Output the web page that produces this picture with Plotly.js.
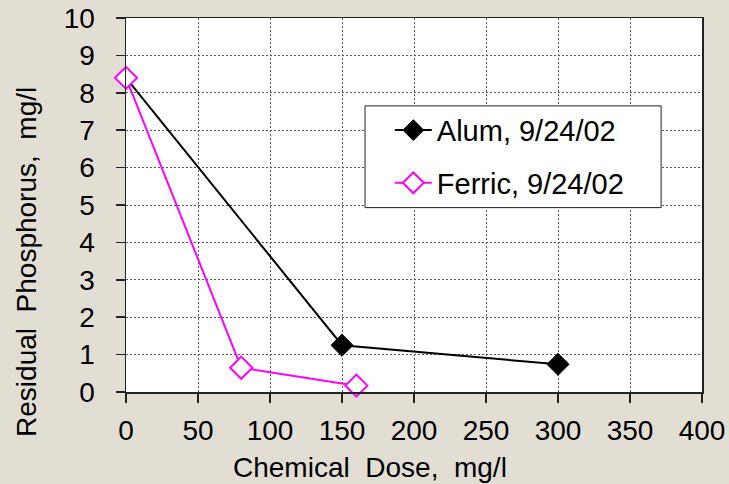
<!DOCTYPE html>
<html><head><meta charset="utf-8">
<script src="https://cdn.plot.ly/plotly-3.0.1.min.js"></script>
<style>html,body{margin:0;padding:0;background:#E3DED4;}</style>
</head><body>
<div id="chart" style="width:729px;height:484px;"></div>
<script>
const alumDose = [0, 150, 300];
const alumP = [8.4, 1.25, 0.74];
const ferricDose = [0, 80, 160];
const ferricP = [8.4, 0.65, 0.17];
const seriesNames = ["Alum, 9/24/02", "Ferric, 9/24/02"];
const xTicks = [0, 50, 100, 150, 200, 250, 300, 350, 400];
const yTicks = [0, 1, 2, 3, 4, 5, 6, 7, 8, 9, 10];
const xTitle = "Chemical  Dose,  mg/l";
const yTitle = "Residual  Phosphorus,  mg/l";

const font = "Liberation Sans, Arial, sans-serif";
const traces = [
  {x: alumDose, y: alumP, name: seriesNames[0], type: 'scatter', mode: 'lines+markers',
   legendgroup: 'a', cliponaxis: false,
   line: {color: '#000000', width: 2},
   marker: {symbol: 'diamond', size: 17, color: '#000000', line: {color: '#000000', width: 1}}},
  {x: ferricDose, y: ferricP, name: seriesNames[1], type: 'scatter', mode: 'lines+markers',
   legendgroup: 'b', cliponaxis: false,
   line: {color: '#FF00FF', width: 2},
   marker: {symbol: 'diamond', size: 17, color: '#FFFFFF', line: {color: '#FF00FF', width: 2}}}
];
const axisCommon = {
  showline: true, linecolor: '#222222', linewidth: 1.5, mirror: true,
  ticks: 'outside', ticklen: 9, tickwidth: 1.5, tickcolor: '#222222',
  showgrid: true, gridcolor: '#555555', gridwidth: 1, griddash: '2px,2px',
  zeroline: false,
  tickfont: {family: font, size: 28, color: '#000000'}
};
const layout = {
  width: 729, height: 484,
  margin: {l: 126, r: 27, t: 18, b: 92},
  paper_bgcolor: '#E3DED4', plot_bgcolor: '#FFFFFF',
  showlegend: true,
  xaxis: Object.assign({}, axisCommon, {
    range: [0, 400], tickvals: xTicks, ticktext: xTicks.map(String), ticklabelstandoff: 4
  }),
  yaxis: Object.assign({}, axisCommon, {
    range: [0, 10], tickvals: yTicks, ticktext: yTicks.map(String), ticklabelstandoff: 15
  }),
  shapes: [
    {type: 'rect', xref: 'paper', yref: 'paper', x0: 0.415, x1: 0.929, y0: 0.493, y1: 0.765,
     fillcolor: '#FFFFFF', line: {color: '#222222', width: 1}, layer: 'above'}
  ],
  annotations: [
    {xref: 'paper', yref: 'paper', x: 0.4236, y: -0.203, xanchor: 'center', yanchor: 'middle',
     text: xTitle, showarrow: false, font: {family: font, size: 28, color: '#000000'}},
    {xref: 'paper', yref: 'paper', x: -0.172, y: 0.3476, xanchor: 'center', yanchor: 'middle',
     text: yTitle, textangle: -90, showarrow: false, font: {family: font, size: 28, color: '#000000'}}
  ],
  legend: {
    x: 0.458, y: 0.768, xanchor: 'left', yanchor: 'top',
    bgcolor: 'rgba(0,0,0,0)', borderwidth: 0,
    font: {family: font, size: 29, color: '#000000'},
    traceorder: 'grouped', tracegroupgap: 12, itemwidth: 37
  }
};
Plotly.newPlot('chart', traces, layout, {displayModeBar: false, staticPlot: true});
</script>
</body></html>
